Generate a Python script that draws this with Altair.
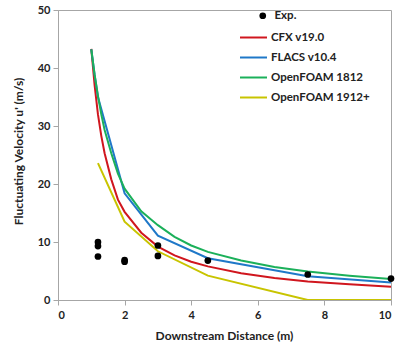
import altair as alt
import pandas as pd

# Experimental data
exp_x = [1.2, 1.2, 1.2, 2.0, 2.0, 3.0, 3.0, 4.5, 7.5, 10.0]
exp_y = [10.0, 9.3, 7.5, 6.9, 6.6, 9.4, 7.6, 6.8, 4.4, 3.7]

# CFX v19.0
cfx_x = [1.0, 1.1, 1.2, 1.3, 1.4, 1.6, 1.8, 2.0, 2.5, 3.0, 3.5, 4.0, 4.5, 5.5, 6.5, 7.5, 8.75, 10.0]
cfx_y = [43.3, 37.0, 32.0, 28.3, 25.3, 20.8, 17.3, 15.2, 11.6, 9.2, 7.7, 6.6, 5.8, 4.6, 3.8, 3.2, 2.7, 2.3]

# FLACS v10.4
flacs_x = [1.0, 1.1, 1.2, 2.0, 3.0, 4.5, 7.5, 10.0]
flacs_y = [43.2, 38.8, 35.0, 18.4, 11.1, 7.2, 4.1, 3.0]

# OpenFOAM 1812
of18_x = [1.0, 1.1, 1.2, 1.3, 1.4, 1.6, 1.8, 2.0, 2.5, 3.0, 3.5, 4.0, 4.5, 5.5, 6.5, 7.5, 8.75, 10.0]
of18_y = [43.2, 38.8, 35.2, 32.0, 29.3, 25.3, 21.8, 19.2, 15.3, 12.9, 10.9, 9.4, 8.3, 6.8, 5.7, 4.9, 4.2, 3.6]

# OpenFOAM 1912+
of19_x = [1.2, 2.0, 3.0, 4.5, 7.5, 10.0]
of19_y = [23.6, 13.5, 8.4, 4.2, 0.0, 0.0]

series_names = ["CFX v19.0", "FLACS v10.4", "OpenFOAM 1812", "OpenFOAM 1912+"]
series_colors = ["#D0161E", "#1F78C8", "#1BB05A", "#C8C400"]

rows = []
for name, xs, ys in zip(series_names, [cfx_x, flacs_x, of18_x, of19_x], [cfx_y, flacs_y, of18_y, of19_y]):
    for i, (x, y) in enumerate(zip(xs, ys)):
        rows.append({"series": name, "x": x, "y": y, "order": i})
lines_df = pd.DataFrame(rows)
exp_df = pd.DataFrame({"x": exp_x, "y": exp_y, "label": ["Exp."] * len(exp_x)})

FONT = "Lato"

xscale = alt.Scale(domain=[0, 10], nice=False, zero=False)
yscale = alt.Scale(domain=[0, 50], nice=False)

xaxis = alt.Axis(values=[0, 2, 4, 6, 8, 10], title="Downstream Distance (m)", grid=False,
                 tickSize=5, labelPadding=4, titleY=30, titleX=166)
yaxis = alt.Axis(values=list(range(0, 55, 5)), title="Fluctuating Velocity u' (m/s)", grid=False,
                 tickSize=5, labelPadding=3, titleX=-40, titleY=141, titleAngle=-90,
                 titleAlign="center", titleBaseline="middle")

lines = alt.Chart(lines_df).mark_line(strokeWidth=2, clip=True).encode(
    x=alt.X("x:Q", scale=xscale, axis=xaxis),
    y=alt.Y("y:Q", scale=yscale, axis=yaxis),
    color=alt.Color("series:N", scale=alt.Scale(domain=series_names, range=series_colors),
                    sort=series_names,
                    legend=alt.Legend(orient="none", legendX=181, legendY=13, title=None,
                                      symbolType="stroke", symbolSize=729, symbolStrokeWidth=2,
                                      labelOffset=3, rowPadding=-6, padding=0,
                                      labelFont=FONT, labelFontSize=11.5, labelFontWeight="bold",
                                      labelColor="#222222")),
    order="order:Q",
)

points = alt.Chart(exp_df).mark_point(filled=True, size=45, opacity=1).encode(
    x=alt.X("x:Q", scale=xscale),
    y=alt.Y("y:Q", scale=yscale),
    fill=alt.Fill("label:N", scale=alt.Scale(domain=["Exp."], range=["#000000"]),
                  legend=alt.Legend(orient="none", legendX=199, legendY=0, title=None,
                                    symbolType="circle", symbolSize=45, symbolStrokeWidth=0,
                                    labelOffset=6, padding=0,
                                    labelFont=FONT, labelFontSize=11.5, labelFontWeight="bold",
                                    labelColor="#222222")),
)

chart = alt.layer(lines, points).properties(
    width=333, height=290,
    autosize=alt.AutoSizeParams(type="none"),
    padding={"left": 58, "top": 10, "right": 5, "bottom": 48},
    background="white",
).configure_view(
    stroke="#A6A6A6", strokeWidth=1,
).configure_axis(
    domainColor="#A6A6A6", tickColor="#A6A6A6",
    labelFont=FONT, labelFontSize=11, labelFontWeight="bold", labelColor="#222222",
    titleFont=FONT, titleFontSize=12, titleFontWeight="bold", titleColor="#222222",
)

chart.save("out.html", embed_options={"renderer": "svg", "actions": False})
